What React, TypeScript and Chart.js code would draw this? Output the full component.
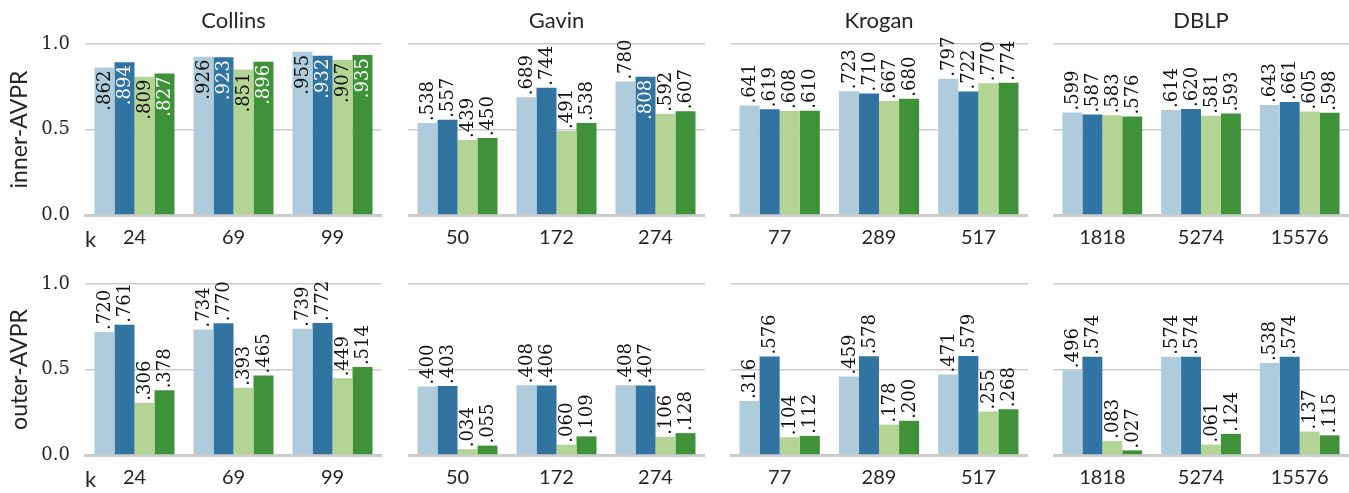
import React, { useEffect, useRef } from 'react';
import { Chart, registerables } from 'chart.js';

Chart.register(...registerables);

// ---------- data ----------
const seriesNames = ['Series 1', 'Series 2', 'Series 3', 'Series 4'];
const seriesColors = ['#aeccdb', '#3274a1', '#b3d495', '#40923a'];

const datasetNames = ['Collins', 'Gavin', 'Krogan', 'DBLP'];
const rowMetrics = ['inner-AVPR', 'outer-AVPR'];
const yTickValues = [0, 0.5, 1.0];

const collinsK = ['24', '69', '99'];
const gavinK = ['50', '172', '274'];
const kroganK = ['77', '289', '517'];
const dblpK = ['1818', '5274', '15576'];

// values: one array per series, across the three k values
const collinsInner = [
  [0.862, 0.926, 0.955],
  [0.894, 0.923, 0.932],
  [0.809, 0.851, 0.907],
  [0.827, 0.896, 0.935],
];
const gavinInner = [
  [0.538, 0.689, 0.780],
  [0.557, 0.744, 0.808],
  [0.439, 0.491, 0.592],
  [0.450, 0.538, 0.607],
];
const kroganInner = [
  [0.641, 0.723, 0.797],
  [0.619, 0.710, 0.722],
  [0.608, 0.667, 0.770],
  [0.610, 0.680, 0.774],
];
const dblpInner = [
  [0.599, 0.614, 0.643],
  [0.587, 0.620, 0.661],
  [0.583, 0.581, 0.605],
  [0.576, 0.593, 0.598],
];

const collinsOuter = [
  [0.720, 0.734, 0.739],
  [0.761, 0.770, 0.772],
  [0.306, 0.393, 0.449],
  [0.378, 0.465, 0.514],
];
const gavinOuter = [
  [0.400, 0.408, 0.408],
  [0.403, 0.406, 0.407],
  [0.034, 0.060, 0.106],
  [0.055, 0.109, 0.128],
];
const kroganOuter = [
  [0.316, 0.459, 0.471],
  [0.576, 0.578, 0.579],
  [0.104, 0.178, 0.255],
  [0.112, 0.200, 0.268],
];
const dblpOuter = [
  [0.496, 0.574, 0.538],
  [0.574, 0.574, 0.574],
  [0.083, 0.061, 0.137],
  [0.027, 0.124, 0.115],
];

const kLabels = [collinsK, gavinK, kroganK, dblpK];
const panelValues = [
  [collinsInner, gavinInner, kroganInner, dblpInner],
  [collinsOuter, gavinOuter, kroganOuter, dblpOuter],
];

// ---------- layout ----------
const PANEL_LEFTS = [85, 408, 730, 1053];
const PANEL_WIDTHS = [297, 297, 298, 296];
const ROW_TOPS = [0, 240];
const CANVAS_H = 255;
const TOP_AREA = 44;
const X_AXIS_H = CANVAS_H - 215;
const Y_AXIS_W0 = 85;

const TEXT = '#262626';
const SANS = 'Lato';
const SERIF = '"DejaVu Serif"';

const valueLabelPlugin = {
  id: 'valueLabels',
  afterDatasetsDraw(chart: any) {
    const ctx = chart.ctx;
    chart.data.datasets.forEach((ds: any, di: number) => {
      const meta = chart.getDatasetMeta(di);
      meta.data.forEach((bar: any, i: number) => {
        const v = ds.data[i] as number;
        const txt = v.toFixed(3).replace(/^0/, '');
        const inside = v > 0.8;
        ctx.save();
        ctx.translate(bar.x, bar.y);
        ctx.rotate(-Math.PI / 2);
        ctx.font = `18px ${SERIF}`;
        ctx.textBaseline = 'middle';
        ctx.textAlign = inside ? 'right' : 'left';
        ctx.fillStyle = inside && (di === 1 || di === 3) ? '#ffffff' : '#111111';
        ctx.fillText(txt, inside ? -3 : 2, 1);
        ctx.restore();
      });
    });
  },
};

const panelTitlePlugin = {
  id: 'panelTitle',
  afterDraw(chart: any, _args: any, opts: any) {
    if (!opts || !opts.text) return;
    const ctx = chart.ctx;
    const { left, right } = chart.chartArea;
    ctx.save();
    ctx.font = `22px ${SANS}`;
    ctx.fillStyle = TEXT;
    ctx.textAlign = 'center';
    ctx.textBaseline = 'alphabetic';
    ctx.fillText(opts.text, (left + right) / 2, 28);
    ctx.restore();
  },
};

function Panel({ row, col }: { row: number; col: number }) {
  const ref = useRef<HTMLCanvasElement | null>(null);
  const canvasLeft = col === 0 ? 0 : PANEL_LEFTS[col];
  const canvasW = col === 0 ? PANEL_LEFTS[0] + PANEL_WIDTHS[0] : PANEL_WIDTHS[col];

  useEffect(() => {
    if (!ref.current) return;
    const values = panelValues[row][col];
    const chart = new Chart(ref.current, {
      type: 'bar',
      data: {
        labels: kLabels[col],
        datasets: values.map((vals, si) => ({
          label: seriesNames[si],
          data: vals,
          backgroundColor: seriesColors[si],
          borderWidth: 0,
          categoryPercentage: 80 / 99,
          barPercentage: 1,
        })),
      },
      options: {
        animation: false,
        responsive: false,
        maintainAspectRatio: false,
        layout: { padding: { top: TOP_AREA, left: 0, right: 0, bottom: 0 } },
        plugins: {
          legend: { display: false },
          tooltip: { enabled: false },
          title: { display: false },
          panelTitle: { text: row === 0 ? datasetNames[col] : '' },
        },
        scales: {
          x: {
            z: 1,
            grid: { display: false, drawTicks: false },
            border: { display: true, color: '#cccccc', width: 3 },
            ticks: {
              color: TEXT,
              font: { family: SANS, size: 20, lineHeight: 1.2 },
              padding: 11,
            },
            title: {
              display: col === 0,
              text: 'k',
              align: 'start',
              color: TEXT,
              font: { family: SANS, size: 22, lineHeight: 1.2 },
              padding: { top: 0, bottom: 2 },
            },
            afterFit: (s: any) => {
              s.height = X_AXIS_H;
            },
          },
          y: {
            min: 0,
            max: 1,
            afterBuildTicks: (s: any) => {
              s.ticks = yTickValues.map((v) => ({ value: v }));
            },
            ticks: {
              display: col === 0,
              color: TEXT,
              font: { family: SERIF, size: 18 },
              padding: 15,
              callback: (v: any) => Number(v).toFixed(1),
            },
            grid: {
              color: '#cccccc',
              lineWidth: 1.5,
              drawTicks: false,
            },
            border: { display: false },
            title: {
              display: col === 0,
              text: rowMetrics[row],
              color: TEXT,
              font: { family: SANS, size: 23, lineHeight: 1.2 },
              padding: { top: 6, bottom: 0 },
            },
            afterFit: (s: any) => {
              s.width = col === 0 ? Y_AXIS_W0 : 0;
            },
          },
        },
      },
      plugins: [valueLabelPlugin, panelTitlePlugin],
    } as any);
    return () => chart.destroy();
  }, [row, col]);

  return (
    <canvas
      ref={ref}
      width={canvasW}
      height={CANVAS_H}
      style={{ position: 'absolute', left: canvasLeft, top: ROW_TOPS[row], width: canvasW, height: CANVAS_H }}
    />
  );
}

export default function App() {
  const panels: React.ReactElement[] = [];
  for (let r = 0; r < 2; r++) {
    for (let c = 0; c < 4; c++) {
      panels.push(<Panel key={`${r}-${c}`} row={r} col={c} />);
    }
  }
  return (
    <div style={{ position: 'absolute', left: 0, top: 0, width: 1349, height: 493, background: '#ffffff', overflow: 'hidden' }}>
      {panels}
    </div>
  );
}
